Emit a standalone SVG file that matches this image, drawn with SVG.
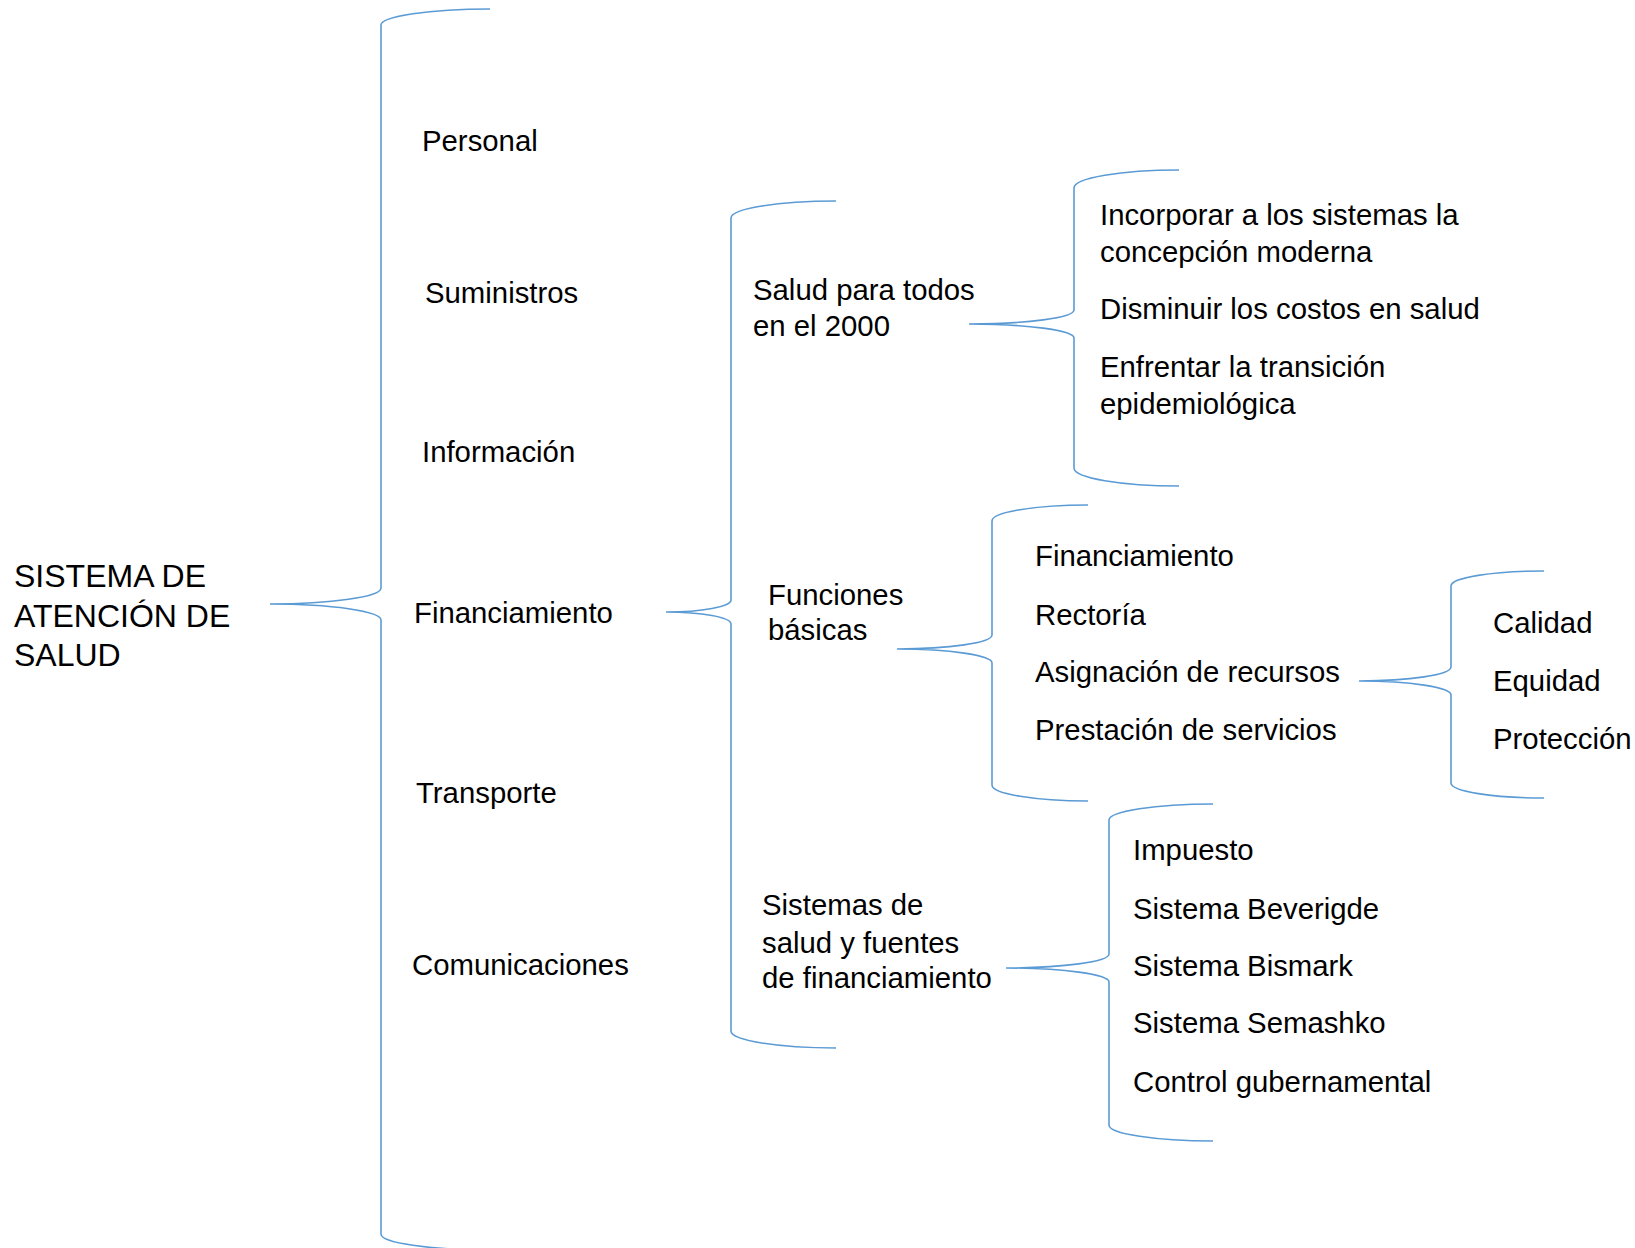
<svg xmlns="http://www.w3.org/2000/svg" width="1635" height="1248" viewBox="0 0 1635 1248">
<style>
.t{font-family:"Liberation Sans",Arial,sans-serif;font-size:29.33px;fill:#000}
.title{font-family:"Liberation Sans",Arial,sans-serif;font-size:32px;fill:#000}
.b{fill:none;stroke:#5B9BD5;stroke-width:1.6}
</style>
<rect width="1635" height="1248" fill="#fff"/>
<g id="connectors">
<path id="brace-main" class="b" d="M490,9 A109,16 0 0 0 381,25 L381,588 A111,16 0 0 1 270,604 A111,16 0 0 1 381,620 L381,1234 A109,16 0 0 0 490,1250"/>
<path id="brace-financiamiento" class="b" d="M836,201 A105,17 0 0 0 731,218 L731,600 A65,12 0 0 1 666,612 A65,12 0 0 1 731,624 L731,1031 A105,17 0 0 0 836,1048"/>
<path id="brace-salud" class="b" d="M1179,170 A105,18 0 0 0 1074,188 L1074,310 A105,14 0 0 1 969,324 A105,14 0 0 1 1074,338 L1074,468 A105,18 0 0 0 1179,486"/>
<path id="brace-funciones" class="b" d="M1088,505 A96,16 0 0 0 992,521 L992,635 A95,14 0 0 1 897,649 A95,14 0 0 1 992,663 L992,785 A96,16 0 0 0 1088,801"/>
<path id="brace-asignacion" class="b" d="M1544,571 A93,15 0 0 0 1451,586 L1451,667 A92,14 0 0 1 1359,681 A92,14 0 0 1 1451,695 L1451,783 A93,15 0 0 0 1544,798"/>
<path id="brace-sistemas" class="b" d="M1213,804 A104,16 0 0 0 1109,820 L1109,954 A103,14 0 0 1 1006,968 A103,14 0 0 1 1109,982 L1109,1125 A104,16 0 0 0 1213,1141"/>
</g>
<g id="root"><text class="title" x="14"><tspan x="14" y="587">SISTEMA DE</tspan><tspan x="14" y="627">ATENCIÓN DE</tspan><tspan x="14" y="666">SALUD</tspan></text></g>
<g id="personal"><text class="t" x="422" y="151">Personal</text></g>
<g id="suministros"><text class="t" x="425" y="303">Suministros</text></g>
<g id="informacion"><text class="t" x="422" y="462">Información</text></g>
<g id="financiamiento"><text class="t" x="414" y="623">Financiamiento</text></g>
<g id="transporte"><text class="t" x="416" y="803">Transporte</text></g>
<g id="comunicaciones"><text class="t" x="412" y="975">Comunicaciones</text></g>
<g id="salud-para-todos"><text class="t"><tspan x="753" y="300">Salud para todos</tspan><tspan x="753" y="336">en el 2000</tspan></text></g>
<g id="funciones-basicas"><text class="t"><tspan x="768" y="605">Funciones</tspan><tspan x="768" y="640">básicas</tspan></text></g>
<g id="sistemas-de-salud"><text class="t"><tspan x="762" y="915">Sistemas de</tspan><tspan x="762" y="953">salud y fuentes</tspan><tspan x="762" y="988">de financiamiento</tspan></text></g>
<g id="incorporar"><text class="t"><tspan x="1100" y="225">Incorporar a los sistemas la</tspan><tspan x="1100" y="262">concepción moderna</tspan></text></g>
<g id="disminuir"><text class="t" x="1100" y="319">Disminuir los costos en salud</text></g>
<g id="enfrentar"><text class="t"><tspan x="1100" y="377">Enfrentar la transición</tspan><tspan x="1100" y="414">epidemiológica</tspan></text></g>
<g id="fb-financiamiento"><text class="t" x="1035" y="566">Financiamiento</text></g>
<g id="rectoria"><text class="t" x="1035" y="625">Rectoría</text></g>
<g id="asignacion"><text class="t" x="1035" y="682">Asignación de recursos</text></g>
<g id="prestacion"><text class="t" x="1035" y="740">Prestación de servicios</text></g>
<g id="calidad"><text class="t" x="1493" y="633">Calidad</text></g>
<g id="equidad"><text class="t" x="1493" y="691">Equidad</text></g>
<g id="proteccion"><text class="t" x="1493" y="749">Protección</text></g>
<g id="impuesto"><text class="t" x="1133" y="860">Impuesto</text></g>
<g id="beveridge"><text class="t" x="1133" y="919">Sistema Beverigde</text></g>
<g id="bismark"><text class="t" x="1133" y="976">Sistema Bismark</text></g>
<g id="semashko"><text class="t" x="1133" y="1033">Sistema Semashko</text></g>
<g id="control"><text class="t" x="1133" y="1092">Control gubernamental</text></g>
</svg>
